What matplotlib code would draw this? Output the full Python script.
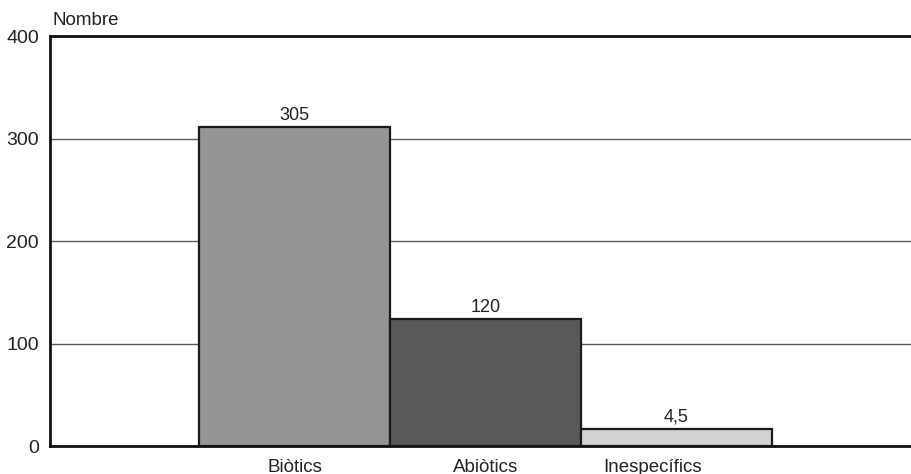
import matplotlib.pyplot as plt
import numpy as np
from matplotlib.transforms import ScaledTranslation

plt.rcParams['font.family'] = ['Liberation Sans', 'DejaVu Sans']

categories = ["Biòtics", "Abiòtics", "Inespecífics"]
heights = [311, 124, 17]          # bar heights as drawn in the picture
value_labels = ["305", "120", "4,5"]
colors = ["#959595", "#58595b", "#d1d2d4"]
yticks = [0, 100, 200, 300, 400]

fig = plt.figure(figsize=(9.12, 4.74), dpi=100)
ax = fig.add_axes([0.0548, 0.059, 0.9452, 0.865])

x = np.arange(len(categories))
ax.bar(x, heights, width=1.0, color=colors, edgecolor="#1a1a1a", linewidth=1.6, zorder=3)

for xi, h, lab in zip(x, heights, value_labels):
    ax.text(xi, h + 3, lab, ha="center", va="bottom", fontsize=13, color="#222222")

ax.set_xlim(-1.28, 3.233)
ax.set_ylim(0, 400)
ax.set_yticks(yticks)
ax.set_yticklabels([str(v) for v in yticks], fontsize=14)
ax.set_xticks(x)
ax.set_xticklabels(categories, fontsize=13.5)
ax.tick_params(axis="both", length=0, colors="#222222")
ax.tick_params(axis="y", pad=8)
ax.tick_params(axis="x", pad=9)
# third label sits slightly left of its bar in the original
lbl = ax.get_xticklabels()[2]
lbl.set_transform(lbl.get_transform() + ScaledTranslation(-0.24, 0, fig.dpi_scale_trans))

ax.yaxis.grid(True, color="#5a5a5a", linewidth=1.0, zorder=0)
ax.set_axisbelow(True)

for s in ["left", "bottom", "top"]:
    ax.spines[s].set_linewidth(2)
    ax.spines[s].set_color("#111111")
ax.spines["right"].set_visible(False)

fig.text(0.058, 0.957, "Nombre", fontsize=13.5, color="#222222", ha="left", va="center")

fig.savefig("out.png", dpi=100)
